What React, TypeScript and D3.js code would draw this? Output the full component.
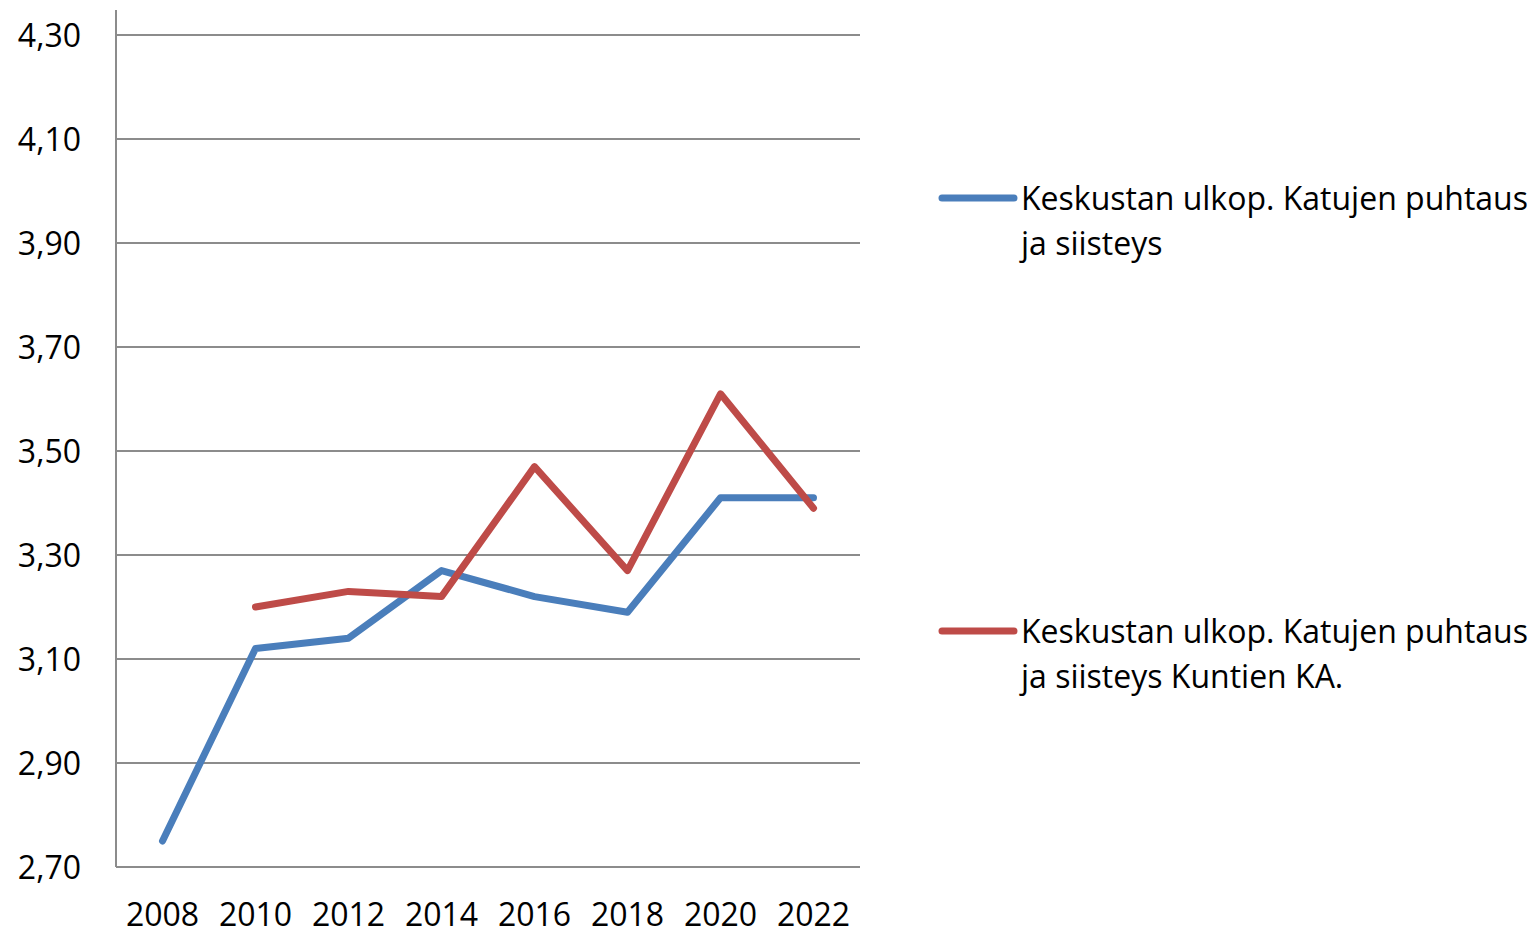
import React from 'react';
import * as d3 from 'd3';

const years = ['2008', '2010', '2012', '2014', '2016', '2018', '2020', '2022'];
const keskusta = [2.75, 3.12, 3.14, 3.27, 3.22, 3.19, 3.41, 3.41];
const kuntienKa = [null, 3.2, 3.23, 3.22, 3.47, 3.27, 3.61, 3.39];
const yTicks = [2.7, 2.9, 3.1, 3.3, 3.5, 3.7, 3.9, 4.1, 4.3];

const series = [
  { name: ['Keskustan ulkop. Katujen puhtaus', 'ja siisteys'], values: keskusta, color: '#4a7ebb', legendY: 198 },
  { name: ['Keskustan ulkop. Katujen puhtaus', 'ja siisteys Kuntien KA.'], values: kuntienKa, color: '#be4b48', legendY: 631 },
];

const font = '"Open Sans", sans-serif';

export default function App() {
  const left = 116, right = 860, top = 35, bottom = 867;

  // kategoria-akseli
  const x = d3.scaleBand().domain(years).range([left, right]);
  const y = d3.scaleLinear().domain([2.7, 4.3]).range([bottom, top]);

  const line = d3.line<number | null>()
    .defined(d => d != null)
    .x((_, i) => (x(years[i]) as number) + x.bandwidth() / 2)
    .y(d => y(d as number));

  const fmt = (v: number) => v.toFixed(2).replace('.', ',');

  return (
    <svg width={1537} height={934} style={{ position: 'absolute', left: 0, top: 0, background: '#fff' }}>
      {yTicks.map(t => (
        <g key={t}>
          <line x1={left} x2={right} y1={y(t)} y2={y(t)} stroke="#8c8c8c" strokeWidth={2} />
          <text x={81} y={y(t)} dy="0.36em" textAnchor="end" fontFamily={font} fontSize={32} fill="#000">
            {fmt(t)}
          </text>
        </g>
      ))}
      <line x1={left} x2={left} y1={10} y2={bottom} stroke="#8c8c8c" strokeWidth={2} />
      {years.map(yr => (
        <text key={yr} x={(x(yr) as number) + x.bandwidth() / 2} y={926} textAnchor="middle"
          fontFamily={font} fontSize={32} fill="#000">
          {yr}
        </text>
      ))}
      {series.map(s => (
        <path key={s.color} d={line(s.values) || ''} fill="none" stroke={s.color} strokeWidth={7}
          strokeLinejoin="round" strokeLinecap="round" />
      ))}
      {series.map(s => (
        <g key={'lg' + s.color}>
          <line x1={942} x2={1014} y1={s.legendY} y2={s.legendY} stroke={s.color} strokeWidth={7} strokeLinecap="round" />
          {s.name.map((n, i) => (
            <text key={i} x={1021} y={s.legendY + 45 * i} dy="0.36em" fontFamily={font} fontSize={32} fill="#000">
              {n}
            </text>
          ))}
        </g>
      ))}
    </svg>
  );
}
